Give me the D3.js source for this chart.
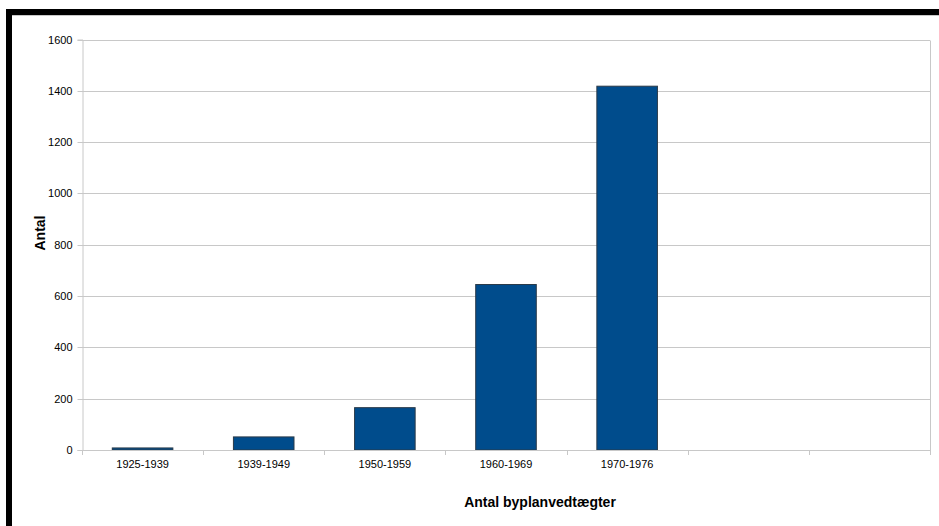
<!DOCTYPE html>
<html>
<head>
<meta charset="utf-8">
<script src="https://cdn.jsdelivr.net/npm/d3@7"></script>
<style>
  html, body { margin: 0; padding: 0; background: #fff; }
  svg { display: block; }
  text { font-family: "Liberation Sans", Arial, sans-serif; fill: #000; }
</style>
</head>
<body>
<svg id="chart" width="939" height="526"></svg>
<script>
// Periods (two trailing empty slots keep the category axis seven wide)
const categories = ["1925-1939", "1939-1949", "1950-1959", "1960-1969", "1970-1976", "", " "];
const counts = [8, 51, 165, 645, 1418, null, null];
const yTicks = [0, 200, 400, 600, 800, 1000, 1200, 1400, 1600];
const xTitle = "Antal byplanvedtægter";
const yTitle = "Antal";

const svg = d3.select("#chart");
const W = 939, H = 526;
const plot = { left: 82, right: 930, top: 39.5, bottom: 450 };

// Frame: heavy black top and left edges, thin grey line under the top edge
svg.append("rect").attr("x", 6).attr("y", 9).attr("width", W - 6).attr("height", 6).attr("fill", "#000");
svg.append("rect").attr("x", 6).attr("y", 9).attr("width", 6).attr("height", H - 9).attr("fill", "#000");
svg.append("line").attr("x1", 12).attr("x2", W).attr("y1", 15.5).attr("y2", 15.5)
  .attr("stroke", "#c8c8c8").attr("stroke-width", 1);

const x = d3.scaleBand().domain(categories).range([plot.left, plot.right]).paddingInner(0).paddingOuter(0);
const y = d3.scaleLinear().domain([0, 1600]).range([plot.bottom, plot.top]);

// Horizontal gridlines
svg.append("g").selectAll("line").data(yTicks).join("line")
  .attr("x1", plot.left).attr("x2", plot.right)
  .attr("y1", d => Math.round(y(d)) + 0.5).attr("y2", d => Math.round(y(d)) + 0.5)
  .attr("stroke", "#c8c8c8").attr("stroke-width", 1);

// Right edge of the plot area
svg.append("line").attr("x1", plot.right + 0.5).attr("x2", plot.right + 0.5)
  .attr("y1", Math.round(plot.top) + 0.5).attr("y2", plot.bottom + 0.5)
  .attr("stroke", "#c8c8c8").attr("stroke-width", 1);

// Y axis
const yAxis = svg.append("g").attr("transform", `translate(${plot.left + 0.5},0)`)
  .call(d3.axisLeft(y).tickValues(yTicks).tickSize(5).tickPadding(5).tickFormat(d3.format("d")));
yAxis.select(".domain").attr("stroke", "#c8c8c8");
yAxis.selectAll(".tick line").attr("stroke", "#c8c8c8");
yAxis.selectAll(".tick").attr("transform", d => `translate(0,${Math.round(y(d)) + 0.5})`);
yAxis.selectAll(".tick text").attr("font-size", 11).attr("font-family", "Liberation Sans, Arial, sans-serif").attr("fill", "#000");

// Bars
svg.append("g").selectAll("rect").data(categories.map((c, i) => ({ c, v: counts[i] })).filter(d => d.v != null))
  .join("rect")
  .attr("x", d => x(d.c) + x.bandwidth() * 0.25)
  .attr("width", x.bandwidth() * 0.5)
  .attr("y", d => y(d.v))
  .attr("height", d => y(0) - y(d.v))
  .attr("fill", "#004c8c")
  .attr("stroke", "#2a3a48")
  .attr("stroke-width", 1);

// X axis: ticks at category boundaries, labels centred in each band
const gx = svg.append("g");
gx.append("line").attr("x1", plot.left).attr("x2", plot.right + 1)
  .attr("y1", plot.bottom + 0.5).attr("y2", plot.bottom + 0.5).attr("stroke", "#c8c8c8");
const bounds = categories.map(c => x(c)).concat([plot.right]);
gx.selectAll("line.tk").data(bounds).join("line").attr("class", "tk")
  .attr("x1", d => Math.round(d) + 0.5).attr("x2", d => Math.round(d) + 0.5)
  .attr("y1", plot.bottom).attr("y2", plot.bottom + 5).attr("stroke", "#c8c8c8");
gx.selectAll("text").data(categories).join("text")
  .attr("x", d => x(d) + x.bandwidth() / 2)
  .attr("y", plot.bottom + 18)
  .attr("text-anchor", "middle")
  .attr("font-size", 11)
  .text(d => d.trim());

// Axis titles
svg.append("text").attr("x", 540).attr("y", 507).attr("text-anchor", "middle")
  .attr("font-size", 14).attr("font-weight", "bold").text(xTitle);
svg.append("text").attr("transform", "translate(45,233) rotate(-90)").attr("text-anchor", "middle")
  .attr("font-size", 14).attr("font-weight", "bold").text(yTitle);
</script>
</body>
</html>
